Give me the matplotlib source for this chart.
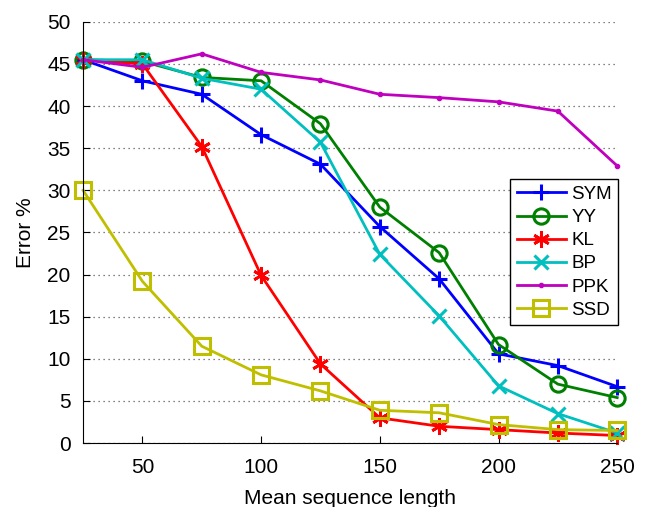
import numpy as np
import matplotlib
matplotlib.use('Agg')
import matplotlib.pyplot as plt

# Datos
lengths = [25, 50, 75, 100, 125, 150, 175, 200, 225, 250]
sym = [45.5, 43.0, 41.4, 36.6, 33.1, 25.7, 19.5, 10.6, 9.2, 6.7]
yy = [45.5, 45.3, 43.4, 43.0, 37.9, 28.0, 22.6, 11.7, 7.0, 5.4]
kl = [45.5, 45.0, 35.2, 19.9, 9.4, 3.0, 2.0, 1.6, 1.2, 0.9]
bp = [45.5, 45.5, 43.3, 42.0, 35.7, 22.4, 15.1, 6.8, 3.5, 1.2]
ppk = [45.5, 44.6, 46.2, 44.0, 43.1, 41.4, 41.0, 40.5, 39.4, 32.9]
ssd = [30.0, 19.2, 11.5, 8.1, 6.2, 3.9, 3.6, 2.2, 1.6, 1.5]

plt.rcParams['font.family'] = ['Liberation Sans', 'DejaVu Sans']

fig = plt.figure(figsize=(6.49, 5.07), dpi=100)
ax = fig.add_axes([0.128, 0.126, 0.823, 0.831])

lw = 2.0
ax.plot(lengths, sym, color=(0, 0, 1), lw=lw, marker='+', ms=12, mew=2.2, label='SYM', clip_on=False)
ax.plot(lengths, yy, color=(0, 0.5, 0), lw=lw, marker='o', ms=11, mew=2.2, mfc='none', label='YY', clip_on=False)
ax.plot(lengths, kl, color=(1, 0, 0), lw=lw, marker=(6, 2, 0), ms=12, mew=2.0, label='KL', clip_on=False)
ax.plot(lengths, bp, color=(0, 0.75, 0.75), lw=lw, marker='x', ms=10, mew=2.2, label='BP', clip_on=False)
ax.plot(lengths, ppk, color=(0.75, 0, 0.75), lw=lw, marker='.', ms=6, label='PPK', clip_on=False)
ax.plot(lengths, ssd, color=(0.75, 0.75, 0), lw=lw, marker='s', ms=11, mew=2.2, mfc='none', label='SSD', clip_on=False)

ax.set_xlim(25, 250)
ax.set_ylim(0, 50)
ax.set_xticks([50, 100, 150, 200, 250])
ax.set_yticks(np.arange(0, 51, 5))
ax.tick_params(direction='in', labelsize=15, length=5)
ax.tick_params(axis='y', pad=9)
ax.tick_params(axis='x', pad=11)
ax.yaxis.grid(True, linestyle=(0, (1, 3)), color='0.35', lw=0.9)
ax.spines['top'].set_visible(False)
ax.spines['right'].set_visible(False)
ax.set_axisbelow(True)

ax.set_xlabel('Mean sequence length', fontsize=15, labelpad=8)
ax.set_ylabel('Error %', fontsize=15, labelpad=9)

leg = ax.legend(loc='upper left', bbox_to_anchor=(0.80, 0.626), fontsize=13.5,
                frameon=True, fancybox=False, edgecolor='black', framealpha=1,
                handlelength=2.6, borderpad=0.35, labelspacing=0.32, handletextpad=0.3,
                borderaxespad=0)
leg.get_frame().set_linewidth(1.0)

plt.savefig('out.png', dpi=100)
plt.close()
